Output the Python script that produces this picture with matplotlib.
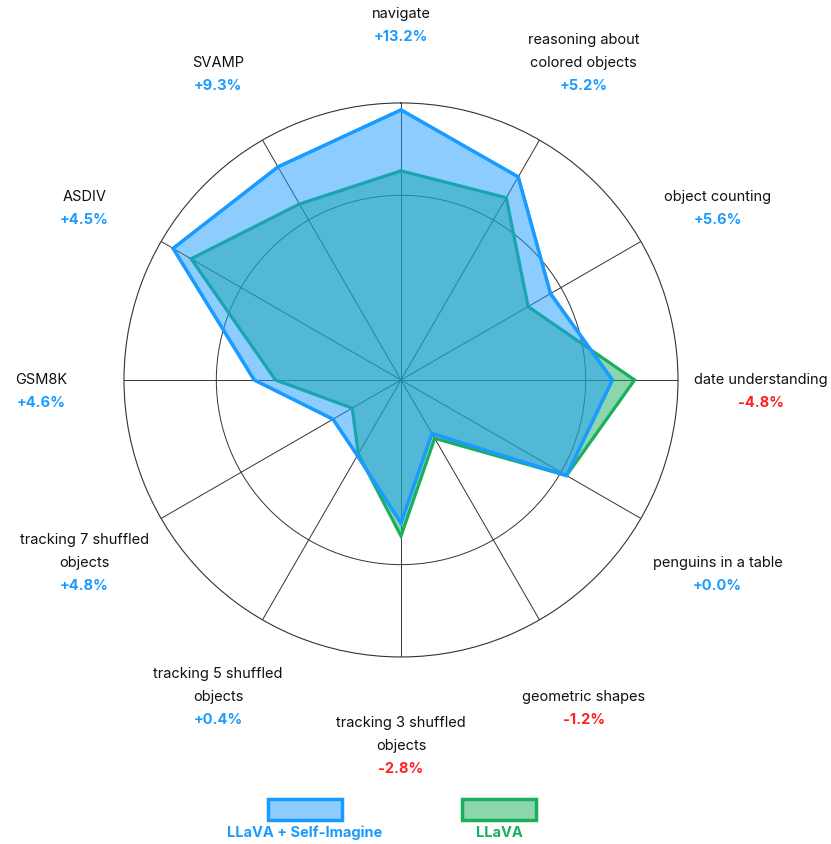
import numpy as np
import matplotlib.pyplot as plt
from matplotlib.patches import Rectangle

plt.rcParams['font.family'] = ['Inter', 'DejaVu Sans']

# categories clockwise from the top
categories = ['navigate', 'reasoning about\ncolored objects', 'object counting',
              'date understanding', 'penguins in a table', 'geometric shapes',
              'tracking 3 shuffled\nobjects', 'tracking 5 shuffled\nobjects',
              'tracking 7 shuffled\nobjects', 'GSM8K', 'ASDIV', 'SVAMP']
llava = [45.3, 45.6, 31.8, 50.6, 41.4, 14.6, 33.8, 18.5, 12.2, 27.2, 52.5, 44.0]
gains = [13.2, 5.2, 5.6, -4.8, 0.0, -1.2, -2.8, 0.4, 4.8, 4.6, 4.5, 9.3]
self_imagine = [a + g for a, g in zip(llava, gains)]

blue = '#1A9BFF'
green = '#1AAF5D'
red = '#FF2020'

fig = plt.figure(figsize=(8.31, 8.44), dpi=100)
ax = fig.add_axes([0.1492, 0.2216, 0.6667, 0.6564], projection='polar')
ax.set_theta_offset(np.pi / 2)
ax.set_theta_direction(-1)

n = len(categories)
angles = np.linspace(0, 2 * np.pi, n, endpoint=False)
closed = np.append(angles, angles[0])

z = 2
for vals, col in [(llava, green), (self_imagine, blue)]:
    v = np.append(vals, vals[0])
    ax.plot(closed, v, color=col, lw=2.3, zorder=z, solid_joinstyle='miter')
    ax.fill(closed, v, color=col, alpha=0.5, lw=0, zorder=z + 1)
    z += 2
# blue outline on top of everything
v = np.append(self_imagine, self_imagine[0])
ax.plot(closed, v, color=blue, lw=2.3, zorder=z, solid_joinstyle='miter')

ax.set_ylim(0, 60)
ax.set_yticks([40])
ax.set_yticklabels([])
ax.set_xticks(angles)
ax.set_xticklabels([])
ax.grid(True, color='#333333', lw=0.7)
ax.spines['polar'].set_color('#333333')
ax.spines['polar'].set_linewidth(0.8)

# labels: last name line at the anchor, extra name lines above, bold gain below
spacing = 16.5
for ang, name, g in zip(angles, categories, gains):
    r = 60 * (1.30 if abs(np.sin(ang)) > 0.99 else 1.32)
    lines = name.split('\n')
    for i, ln in enumerate(lines):
        off = (len(lines) - 1 - i) * spacing
        ax.annotate(ln, (ang, r), xytext=(0, off), textcoords='offset points',
                    ha='center', va='center', fontsize=10.5, color='#111111',
                    annotation_clip=False)
    ax.annotate(f'{g:+.1f}%', (ang, r), xytext=(0, -spacing), textcoords='offset points',
                ha='center', va='center', fontsize=10.5, fontweight='bold',
                color=blue if g >= 0 else red, annotation_clip=False)

# legend
for x, col, lab in [(268, blue, 'LLaVA + Self-Imagine'), (462, green, 'LLaVA')]:
    fig.patches.append(Rectangle((x / 831, 1 - 820 / 844), 74 / 831, 21 / 844,
                                 transform=fig.transFigure, facecolor=col, alpha=0.5,
                                 edgecolor='none'))
    fig.patches.append(Rectangle((x / 831, 1 - 820 / 844), 74 / 831, 21 / 844,
                                 transform=fig.transFigure, facecolor='none',
                                 edgecolor=col, lw=2.5))
    fig.text((x + 37) / 831, 1 - 833 / 844, lab, ha='center', va='center',
             fontsize=10.5, fontweight='bold', color=col)

fig.savefig('out.png', dpi=100)
